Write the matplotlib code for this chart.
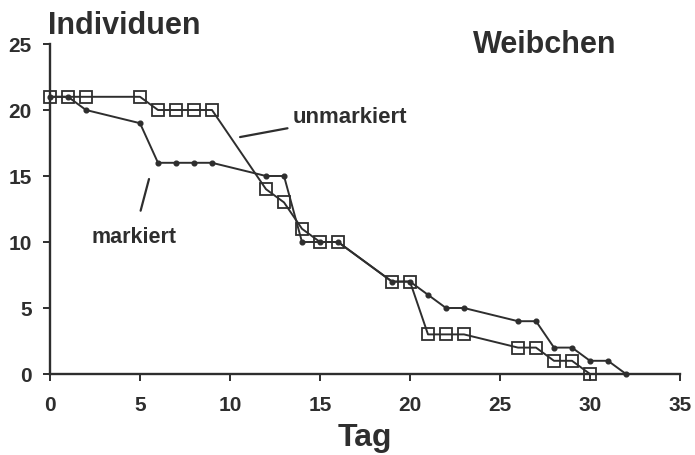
import matplotlib
matplotlib.use("Agg")
import matplotlib.pyplot as plt

# Tag / Individuen, Weibchen
tage_markiert = [0, 1, 2, 5, 6, 7, 8, 9, 12, 13, 14, 15, 16, 19, 20, 21, 22, 23, 26, 27, 28, 29, 30, 31, 32]
ind_markiert = [21, 21, 20, 19, 16, 16, 16, 16, 15, 15, 10, 10, 10, 7, 7, 6, 5, 5, 4, 4, 2, 2, 1, 1, 0]

tage_unmarkiert = [0, 1, 2, 5, 6, 7, 8, 9, 12, 13, 14, 15, 16, 19, 20, 21, 22, 23, 26, 27, 28, 29, 30]
ind_unmarkiert = [21, 21, 21, 21, 20, 20, 20, 20, 14, 13, 11, 10, 10, 7, 7, 3, 3, 3, 2, 2, 1, 1, 0]

x_ticks = [0, 5, 10, 15, 20, 25, 30, 35]
y_ticks = [0, 5, 10, 15, 20, 25]

ink = "#2e2e2e"
plt.rcParams["font.family"] = ["Liberation Sans", "DejaVu Sans"]
plt.rcParams["font.weight"] = "bold"

fig = plt.figure(figsize=(6.95, 4.56), dpi=100)
ax = fig.add_axes([50 / 695, 1 - 375 / 456, 630 / 695, 330 / 456])

ax.plot(tage_markiert, ind_markiert, color=ink, lw=1.4, marker="o", ms=3.4,
        mfc=ink, mec=ink, clip_on=False, zorder=3)
ax.plot(tage_unmarkiert, ind_unmarkiert, color=ink, lw=1.4, marker="s", ms=8,
        mfc="none", mec=ink, mew=1.3, clip_on=False, zorder=4)

ax.set_xlim(0, 35)
ax.set_ylim(0, 25)
ax.set_xticks(x_ticks)
ax.set_yticks(y_ticks)
for s in ["top", "right"]:
    ax.spines[s].set_visible(False)
for s in ["left", "bottom"]:
    ax.spines[s].set_linewidth(1.7)
    ax.spines[s].set_color(ink)
ax.tick_params(axis="both", direction="out", length=5, width=1.4, color=ink,
               labelsize=15, labelcolor=ink)
ax.tick_params(axis="x", pad=10)
ax.tick_params(axis="y", pad=8)

ax.set_xlabel("Tag", fontsize=23, fontweight="bold", color=ink, labelpad=6)

fig.text(48 / 695, 1 - 34 / 456, "Individuen", fontsize=22, fontweight="bold",
         color=ink, va="baseline", ha="left")
fig.text(473 / 695, 1 - 53 / 456, "Weibchen", fontsize=22, fontweight="bold",
         color=ink, va="baseline", ha="left")

ax.annotate("unmarkiert", xy=(10.56, 17.95), xytext=(13.5, 19.5),
            fontsize=16, fontweight="bold", color=ink, va="center", ha="left",
            arrowprops=dict(arrowstyle="-", color=ink, lw=1.6, shrinkA=2, shrinkB=0))
ax.annotate("markiert", xy=(5.5, 14.77), xytext=(2.3, 10.45),
            fontsize=15.5, fontweight="bold", color=ink, va="center", ha="left",
            arrowprops=dict(arrowstyle="-", color=ink, lw=1.6, shrinkA=9, shrinkB=0))

fig.savefig("out.png", dpi=100, facecolor="white")
